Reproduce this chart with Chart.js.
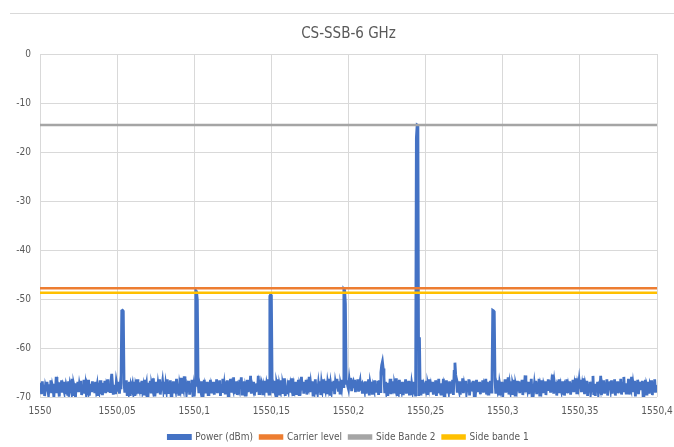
<!DOCTYPE html>
<html lang="fr">
<head>
    <meta charset="UTF-8">
    <title>CS-SSB-6 GHz</title>
    <script src="https://cdn.jsdelivr.net/npm/chart.js@4.4.1/dist/chart.umd.min.js"></script>
    <style>
        html, body { margin: 0; padding: 0; background: #fff; }
        .frame { position: relative; width: 674px; height: 447px; }
        .frame::before {
            content: ''; position: absolute; left: 10px; right: 0; top: 13px;
            border-top: 1px solid #d9d9d9;
        }
        canvas { display: block; }
    </style>
</head>
<body>
    <div class="frame">
        <canvas id="spectre" width="674" height="447"></canvas>
    </div>

    <script>
        // Axe des longueurs d'onde (nm) : un point tous les 0,0005 nm
        const wlStart = 1550;
        const wlStep = 0.0005;

        const power = [
            -68.2,-67.1,-69.4,-66.8,-68.9,-67.5,-69.8,-67.9,-68.6,-66.9,-68.3,-69.5,-67.4,-68.8,-66.6,-69.2,-67.7,-68.4,-70.0,-67.3,
            -68.8,-65.9,-69.2,-67.4,-68.1,-69.9,-67.0,-68.5,-66.6,-69.1,-67.9,-68.6,-66.9,-69.4,-67.6,-68.2,-69.7,-66.8,-68.5,-67.2,
            -67.8,-68.9,-66.3,-69.5,-67.6,-68.3,-70.1,-67.2,-68.7,-66.9,-69.0,-67.5,-68.4,-66.7,-69.6,-67.9,-68.1,-66.5,-69.3,-67.8,
            -69.3,-67.7,-68.4,-66.5,-69.7,-68.0,-67.3,-69.0,-66.8,-68.6,-67.4,-69.2,-66.9,-68.5,-67.6,-69.8,-67.1,-68.3,-66.6,-69.4,
            -67.9,-69.6,-67.1,-68.4,-66.7,-69.2,-67.8,-68.5,-66.4,-69.0,-67.3,-68.9,-66.8,-65.3,-67.4,-69.5,-68.1,-67.5,-69.4,-66.9,
            -67.8,-68.9,-66.9,-69.3,-67.6,-68.4,-52.4,-52.3,-52.5,-67.2,-69.1,-68.0,-66.6,-69.5,-67.4,-68.7,-66.9,-69.8,-67.6,-68.2,
            -67.4,-68.7,-66.9,-69.8,-67.6,-68.2,-66.4,-69.3,-67.9,-68.5,-67.0,-69.1,-66.7,-68.6,-67.8,-69.4,-66.5,-68.1,-67.3,-69.9,
            -70.0,-67.1,-68.8,-66.7,-69.0,-67.7,-68.4,-66.2,-69.6,-67.8,-68.3,-66.9,-69.2,-67.5,-68.7,-66.4,-69.5,-67.9,-68.0,-66.8,
            -68.3,-66.9,-69.4,-67.5,-68.6,-66.4,-69.1,-67.2,-68.8,-66.6,-69.7,-67.4,-68.2,-66.8,-69.0,-67.6,-68.5,-66.3,-69.3,-67.7,
            -69.7,-67.4,-68.2,-66.1,-69.3,-67.9,-68.5,-65.8,-68.9,-67.3,-69.1,-67.8,-68.4,-66.7,-69.5,-67.2,-68.6,-66.5,-69.0,-67.9,
            -69.9,-67.6,-48.3,-48.5,-50.2,-67.0,-69.2,-67.6,-68.4,-66.8,-70.2,-67.5,-68.7,-66.5,-69.0,-67.8,-68.3,-66.9,-69.5,-67.1,
            -68.7,-66.5,-69.0,-67.8,-68.3,-66.9,-69.5,-67.1,-68.6,-66.4,-69.2,-67.7,-68.1,-66.6,-69.8,-67.4,-68.9,-66.3,-69.1,-67.6,
            -69.2,-67.7,-68.1,-66.6,-69.8,-67.4,-68.9,-66.3,-69.1,-67.6,-68.2,-66.0,-69.4,-67.3,-68.7,-66.8,-69.6,-67.9,-68.4,-66.5,
            -68.2,-66.0,-69.4,-67.3,-68.7,-66.8,-69.6,-67.9,-68.4,-66.5,-69.0,-67.2,-68.8,-65.7,-69.3,-67.5,-68.1,-66.9,-69.7,-67.4,
            -69.0,-67.2,-68.8,-65.7,-69.3,-67.5,-68.1,-66.9,-67.4,-69.6,-67.8,-68.5,-66.7,-69.1,-67.3,-68.0,-66.4,-69.4,-49.4,-49.1,
            -49.3,-67.6,-69.2,-67.8,-68.5,-66.7,-69.7,-67.3,-68.0,-66.4,-69.4,-67.9,-68.6,-66.6,-69.1,-67.5,-68.2,-66.2,-69.8,-67.7,
            -69.4,-67.9,-68.6,-66.6,-69.1,-67.5,-68.2,-66.2,-69.8,-67.7,-68.4,-66.9,-69.3,-67.0,-68.7,-66.5,-69.5,-67.6,-68.1,-65.9,
            -68.4,-66.9,-69.3,-67.0,-68.7,-66.5,-69.5,-67.6,-68.1,-65.9,-69.0,-67.4,-68.8,-66.8,-69.6,-67.2,-68.3,-66.4,-69.2,-67.8,
            -69.0,-67.4,-68.8,-66.8,-69.6,-67.2,-68.3,-66.4,-69.2,-67.8,-68.5,-66.7,-69.4,-67.1,-68.0,-66.3,-69.7,-67.5,-68.6,-66.9,
            -68.5,-66.7,-69.4,-67.1,-68.0,-66.3,-67.5,-68.9,-66.8,-69.2,-67.6,-68.3,-66.5,-67.9,-48.0,-48.2,-51.0,-67.2,-66.6,-67.8,
            -68.4,-66.6,-67.9,-66.1,-68.8,-67.3,-66.9,-68.2,-66.5,-69.0,-67.1,-68.5,-66.4,-68.9,-67.6,-66.8,-68.7,-67.0,-69.3,-67.4,
            -67.7,-68.6,-66.8,-69.3,-67.5,-68.9,-66.4,-69.7,-67.2,-68.1,-66.9,-69.5,-67.8,-68.4,-66.6,-69.1,-67.3,-68.8,-66.7,-69.6,
            -66.6,-68.9,-65.0,-63.5,-62.8,-64.2,-66.0,-69.2,-66.9,-68.5,-67.1,-69.8,-67.4,-68.6,-66.3,-69.4,-67.7,-68.2,-66.8,-69.0,
            -67.6,-68.3,-66.2,-69.5,-67.8,-68.7,-66.5,-69.1,-67.3,-68.4,-66.9,-69.6,-67.5,-68.8,-66.4,-69.3,-67.9,-68.0,-66.7,-69.7,
            -66.8,-69.6,-67.4,-68.5,-66.9,-69.2,-67.7,-69.9,-17.1,-14.5,-14.6,-69.8,-57.8,-69.4,-67.0,-68.8,-66.5,-69.3,-67.6,-68.1,
            -68.6,-66.7,-69.3,-67.5,-68.2,-66.4,-69.0,-67.8,-68.7,-66.9,-69.5,-67.2,-68.4,-66.6,-69.8,-67.7,-68.1,-66.3,-69.2,-67.4,
            -69.4,-67.2,-68.5,-66.3,-69.8,-67.6,-68.1,-66.6,-69.0,-67.5,-68.7,-66.8,-69.3,-67.1,-68.4,-66.5,-69.6,-64.8,-63.0,-65.5,
            -66.4,-69.1,-67.7,-68.4,-66.8,-69.5,-67.3,-68.9,-66.2,-69.2,-67.6,-68.5,-66.7,-69.0,-67.9,-68.2,-66.4,-69.7,-67.1,-68.6,
            -67.9,-68.3,-66.7,-69.7,-67.4,-68.6,-66.5,-69.0,-67.8,-68.2,-66.9,-69.4,-67.2,-68.7,-66.6,-69.1,-67.5,-68.0,-66.3,-69.5,
            -66.9,-69.4,-67.1,-68.5,-66.7,-69.0,-67.6,-52.3,-52.4,-52.6,-66.8,-69.3,-67.6,-68.4,-66.6,-69.7,-67.3,-68.2,-66.9,-69.1,
            -69.8,-67.2,-68.7,-66.4,-69.1,-67.9,-68.2,-66.0,-69.5,-67.5,-68.6,-66.8,-69.3,-67.4,-68.0,-66.5,-69.6,-67.7,-68.4,-66.7,
            -68.6,-66.8,-69.2,-67.3,-68.9,-66.5,-69.6,-67.7,-68.1,-65.6,-69.0,-67.5,-68.4,-66.9,-69.4,-67.1,-68.7,-66.3,-69.8,-67.6,
            -69.0,-67.4,-68.8,-66.7,-69.4,-67.0,-68.3,-66.3,-69.9,-67.8,-68.5,-66.6,-69.2,-67.5,-68.1,-66.8,-69.6,-67.2,-68.7,-66.4,
            -68.5,-66.6,-69.1,-67.5,-68.7,-65.4,-69.3,-67.2,-68.4,-66.9,-69.7,-67.6,-68.0,-66.4,-69.2,-67.8,-68.6,-66.8,-69.5,-67.1,
            -69.7,-67.6,-68.0,-66.4,-69.2,-67.8,-68.6,-66.8,-69.5,-67.1,-68.3,-66.5,-69.0,-67.7,-68.9,-66.2,-69.4,-67.4,-68.1,-66.7,
            -68.3,-66.5,-69.0,-67.7,-68.9,-66.2,-69.4,-67.4,-68.1,-66.7,-69.8,-67.3,-68.5,-66.9,-69.1,-67.9,-68.4,-65.7,-69.6,-67.5,
            -69.8,-67.3,-68.5,-66.9,-69.1,-67.9,-68.4,-65.7,-69.6,-67.5,-68.2,-66.6,-69.3,-67.0,-68.8,-66.4,-69.7,-67.6,-68.0,-66.8,
            -68.2,-66.6,-69.3,-67.0,-68.8,-66.4,-69.7,-67.6,-68.0,-66.8,-69.2,-67.2,-68.7,-66.3,-69.5,-67.8,-68.3,-65.9,-69.0,-67.4,
            -69.2,-67.2,-68.7,-66.3,-69.5,-67.8,-68.3,-65.9,-69.0,-67.4,-68.6,-66.7,-69.9,-67.1,-68.5,-66.5,-69.4,-67.7,-68.2,-66.9,
            -68.6,-66.7,-69.9,-67.1,-68.5,-66.5,-69.4,-67.7,-68.2,-66.9,-69.3,-67.5,-68.0,-66.6,-69.6,-67.2,-68.8,-66.4,-69.1,-67.8,
            -67.6
        ];

        // Niveaux de référence (dBm)
        const carrierLevel = -47.8;
        const sideBande2 = -14.5;
        const sideBande1 = -48.7;

        const xMin = 1550, xMax = 1550.4;
        const seriesNames = ['Power (dBm)', 'Carrier level', 'Side Bande 2', 'Side bande 1'];
        const seriesColors = ['#4472C4', '#ED7D31', '#A5A5A5', '#FFC000'];

        const powerPoints = power.map((p, i) => ({ x: wlStart + i * wlStep, y: p }));
        const flatLine = (v) => [{ x: xMin, y: v }, { x: xMax, y: v }];

        const font = "'Liberation Sans Narrow', 'DejaVu Sans Condensed', sans-serif";
        const grey = '#595959';

        // Titre et légende centrés sur la zone de tracé, comme dans Excel
        const centerOnPlot = {
            id: 'centerOnPlot',
            afterLayout(chart) {
                const area = chart.chartArea;
                [chart.titleBlock, chart.legend].forEach((box) => {
                    if (!box) return;
                    const shift = (area.left + area.right) / 2 - (box.left + box.right) / 2;
                    box.left += shift;
                    box.right += shift;
                });
            }
        };

        const ctx = document.getElementById('spectre').getContext('2d');
        new Chart(ctx, {
            type: 'scatter',
            data: {
                datasets: [
                    { label: seriesNames[0], data: powerPoints, borderColor: seriesColors[0], backgroundColor: seriesColors[0], borderWidth: 2.8, order: 4 },
                    { label: seriesNames[1], data: flatLine(carrierLevel), borderColor: seriesColors[1], backgroundColor: seriesColors[1], borderWidth: 2.5, order: 1 },
                    { label: seriesNames[2], data: flatLine(sideBande2), borderColor: seriesColors[2], backgroundColor: seriesColors[2], borderWidth: 2.5, order: 3 },
                    { label: seriesNames[3], data: flatLine(sideBande1), borderColor: seriesColors[3], backgroundColor: seriesColors[3], borderWidth: 2.5, order: 2 }
                ]
            },
            plugins: [centerOnPlot],
            options: {
                responsive: false,
                animation: false,
                showLine: true,
                elements: { point: { radius: 0, hoverRadius: 0 }, line: { tension: 0 } },
                layout: { padding: { left: 4, right: 17, top: 25, bottom: -5 } },
                scales: {
                    x: {
                        type: 'linear',
                        min: xMin,
                        max: xMax,
                        border: { display: false },
                        grid: { color: '#d9d9d9', drawTicks: false },
                        ticks: {
                            stepSize: 0.05,
                            padding: 8,
                            color: grey,
                            font: { family: font, size: 10 },
                            maxRotation: 0,
                            callback: (v) => String(Number(v.toFixed(2))).replace('.', ',')
                        },
                        afterFit: (axis) => { axis.paddingLeft = 0; axis.paddingRight = 0; }
                    },
                    y: {
                        min: -70,
                        max: 0,
                        border: { display: false },
                        grid: { color: '#d9d9d9', drawTicks: false },
                        ticks: {
                            stepSize: 10,
                            padding: 9,
                            color: grey,
                            font: { family: font, size: 10 }
                        },
                        afterFit: (axis) => { axis.width = 36; }
                    }
                },
                plugins: {
                    title: {
                        display: true,
                        text: 'CS-SSB-6 GHz',
                        color: grey,
                        font: { family: font, size: 15, weight: 'normal' },
                        padding: { top: 0, bottom: 11 }
                    },
                    legend: {
                        position: 'bottom',
                        labels: {
                            boxWidth: 22,
                            boxHeight: 3,
                            color: grey,
                            padding: 7,
                            font: { family: font, size: 10 },
                            sort: (a, b) => a.datasetIndex - b.datasetIndex
                        }
                    },
                    tooltip: { enabled: false }
                }
            }
        });
    </script>
</body>
</html>
